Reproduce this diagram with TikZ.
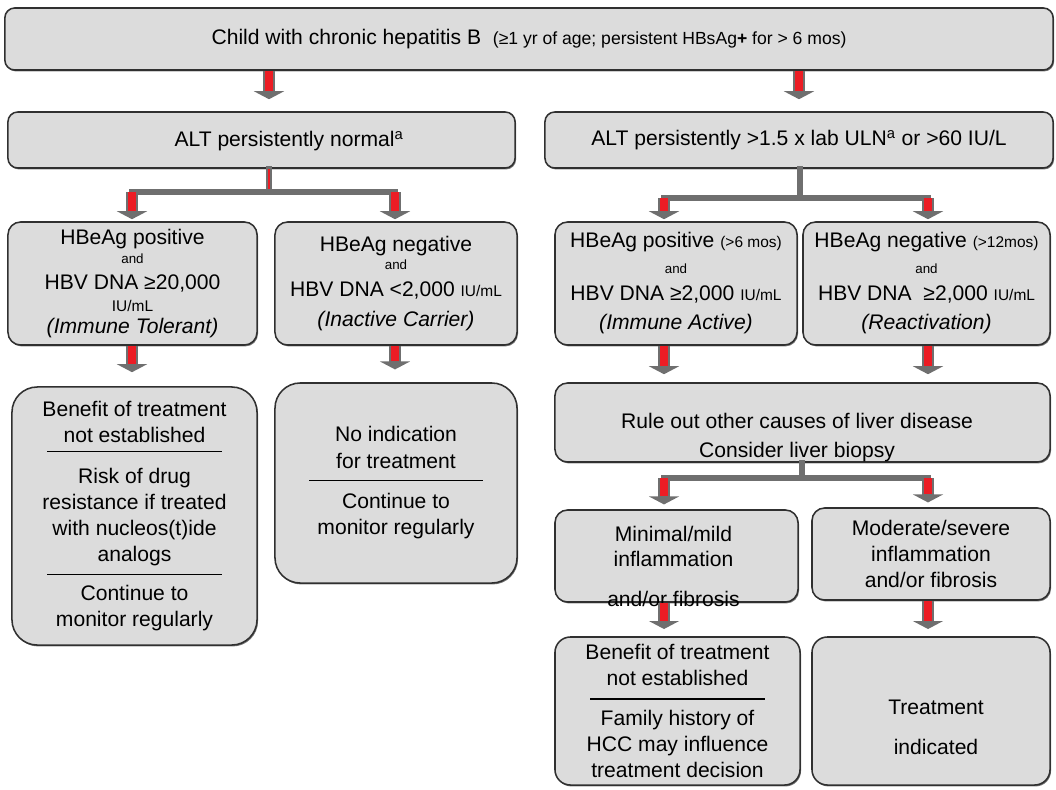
\documentclass[tikz,border=0pt]{standalone}
\usepackage{fontspec}
\setmainfont{Liberation Sans}
\usetikzlibrary{arrows.meta, positioning, shadows}

\definecolor{boxfill}{HTML}{DCDCDC}
\definecolor{boxline}{HTML}{303030}
\definecolor{arrowgray}{HTML}{6F6F6F}
\definecolor{arrowred}{HTML}{EC1C24}

\newcommand{\tinyand}{{\fontsize{9.5}{11}\selectfont and}}
\newcommand{\sm}[1]{{\fontsize{11}{13}\selectfont #1}}

\begin{document}
\begin{tikzpicture}[x=0.025cm, y=-0.025cm,
  box/.style={rectangle, draw=boxline, line width=1.1pt, fill=boxfill, rounded corners=#1,
    align=center, inner sep=0pt, font=\fontsize{15}{18.5}\selectfont,
    drop shadow={shadow xshift=0.7pt, shadow yshift=-1pt, fill=black, opacity=0.55}},
  box/.default=7pt,
  txt/.style={align=center, inner sep=0pt, font=\fontsize{15}{18.5}\selectfont},
  fat/.style={draw=arrowgray, line width=0.3cm, -{Triangle[width=0.75cm,length=0.2cm]},
    shorten >=#1, postaction={draw=arrowred, line width=0.2cm, -, shorten >=#1+0.2cm}},
  fat/.default=0cm,
  bar/.style={draw=arrowgray, line width=0.14cm, line cap=rect},
]
  \useasboundingbox (0,0) rectangle (1056,789);

  % columns of the arrows
  \coordinate (colA) at (132,0);
  \coordinate (colB) at (395,0);
  \coordinate (colC) at (664,0);
  \coordinate (colD) at (928,0);
  \coordinate (jnL) at (269,192);
  \coordinate (jnR) at (800,198);
  \coordinate (jnB) at (802,478);

  % boxes
  \node[box, minimum width=26.2cm, minimum height=1.55cm] (child) at (529,39)
    {Child with chronic hepatitis B\ \ {\fontsize{12.5}{15}\selectfont(≥1 yr of age; persistent HBsAg\textbf{+} for > 6 mos)}};
  \node[box, minimum width=12.675cm, minimum height=1.4cm] (altn) at (261.5,140) {};
  \node[txt] (altntxt) at (289,141) {ALT persistently normal\textsuperscript{a}};
  \node[box, minimum width=12.7cm, minimum height=1.4cm] (alth) at (799,140)
    {ALT persistently >1.5 x lab ULN\textsuperscript{a} or >60 IU/L};

  \node[box=9pt, minimum width=6.225cm, minimum height=3.075cm] (tol) at (132.5,283.5)
    {HBeAg positive\\[-5pt] \tinyand\\ HBV DNA ≥20,000\\[-2.9pt] \sm{IU/mL}\\[-2.9pt] \textit{(Immune Tolerant)}};
  \node[box=9pt, minimum width=6.05cm, minimum height=3.075cm] (icar) at (396,283.5)
    {HBeAg negative\\[-5.2pt] \tinyand\\[0.7pt] HBV DNA <2,000 \sm{IU/mL}\\[2.8pt] \textit{(Inactive Carrier)}};
  \node[box=9pt, minimum width=6.05cm, minimum height=3.075cm] (act) at (676,283.5)
    {HBeAg positive \sm{(>6 mos)}\\[-0.7pt] \tinyand\\[0.7pt] HBV DNA ≥2,000 \sm{IU/mL}\\[2.8pt] \textit{(Immune Active)}};
  \node[box=9pt, minimum width=6.175cm, minimum height=3.075cm] (react) at (926.5,283.5)
    {HBeAg negative \sm{(>12mos)}\\[-0.7pt] \tinyand\\[0.7pt] HBV DNA\ \ ≥2,000 \sm{IU/mL}\\[2.8pt] \textit{(Reactivation)}};

  \node[box=18pt, minimum width=6.125cm, minimum height=6.45cm] (res1) at (134.5,516)
    {Benefit of treatment\\ not established\\[-11.4pt] \rule{4.35cm}{0.8pt}\\[3.5pt]
     Risk of drug\\ resistance if treated\\ with nucleos(t)ide\\ analogs\\[-8.5pt]
     \rule{4.35cm}{0.8pt}\\[-0.7pt] Continue to\\ monitor regularly};
  \node[box=18pt, minimum width=6.05cm, minimum height=5cm] (res2) at (396,483)
    {No indication\\ for treatment\\[-9.3pt] \rule{4.33cm}{0.8pt}\\[1.4pt] Continue to\\ monitor regularly};

  \node[box=9pt, minimum width=12.375cm, minimum height=1.975cm] (ruleout) at (802.5,422.5) {};
  \node[txt] (ruletxt) at (797,438) {Rule out other causes of liver disease\\[2.1pt] Consider liver biopsy};

  \node[box=9pt, minimum width=6.075cm, minimum height=2.3cm] (mild) at (676.5,556) {};
  \node[txt] (mildtxt) at (673.5,566) {Minimal/mild\\[-0.7pt] inflammation\\[9.9pt] and/or fibrosis};
  \node[box=9pt, minimum width=5.95cm, minimum height=2.3cm] (severe) at (931,554)
    {Moderate/severe\\ inflammation\\ and/or fibrosis};

  \node[box=11pt, minimum width=6.125cm, minimum height=3.7cm] (famhx) at (677.5,711)
    {Benefit of treatment\\ not established\\[-8.5pt] \rule{4.35cm}{0.8pt}\\ Family history of\\ HCC may influence\\ treatment decision};
  \node[box=11pt, minimum width=5.95cm, minimum height=3.7cm] (treat) at (931,711) {};
  \node[txt] (treattxt) at (936,727) {Treatment\\[9.9pt] indicated};

  % arrows
  \draw[fat=0.3cm] (child.south -| jnL) -- (altn.north -| jnL);
  \draw[fat=0.3cm] (child.south -| alth.north) -- (alth.north);

  \draw[bar, postaction={draw=arrowred, line width=0.05cm, line cap=butt}] (altn.south -| jnL) -- (jnL);
  \draw[bar] (jnL -| colA) -- (jnL -| colB);
  \draw[fat=0.05cm] (jnL -| colA) -- (tol.north -| colA);
  \draw[fat=0.05cm] (jnL -| colB) -- (icar.north -| colB);

  \draw[bar] (alth.south -| jnR) -- (jnR);
  \draw[bar] (jnR -| colC) -- (jnR -| colD);
  \draw[fat=0.05cm] (jnR -| colC) -- (act.north -| colC);
  \draw[fat=0.05cm] (jnR -| colD) -- (react.north -| colD);

  \draw[fat=0.35cm] (tol.south -| colA) -- (res1.north -| colA);
  \draw[fat=0.32cm] (icar.south -| colB) -- (res2.north -| colB);
  \draw[fat=0.2cm] (act.south -| colC) -- (ruleout.north -| colC);
  \draw[fat=0.2cm] (react.south -| colD) -- (ruleout.north -| colD);

  \draw[bar] (ruleout.south -| jnB) -- (jnB);
  \draw[bar] (jnB -| colC) -- (jnB -| colD);
  \draw[fat=0.12cm] (jnB -| colC) -- (mild.north -| colC);
  \draw[fat=0.12cm] (jnB -| colD) -- (severe.north -| colD);

  \draw[fat=0.18cm] (mild.south -| colC) -- (famhx.north -| colC);
  \draw[fat=0.18cm] (severe.south -| colD) -- (treat.north -| colD);
\end{tikzpicture}
\end{document}
